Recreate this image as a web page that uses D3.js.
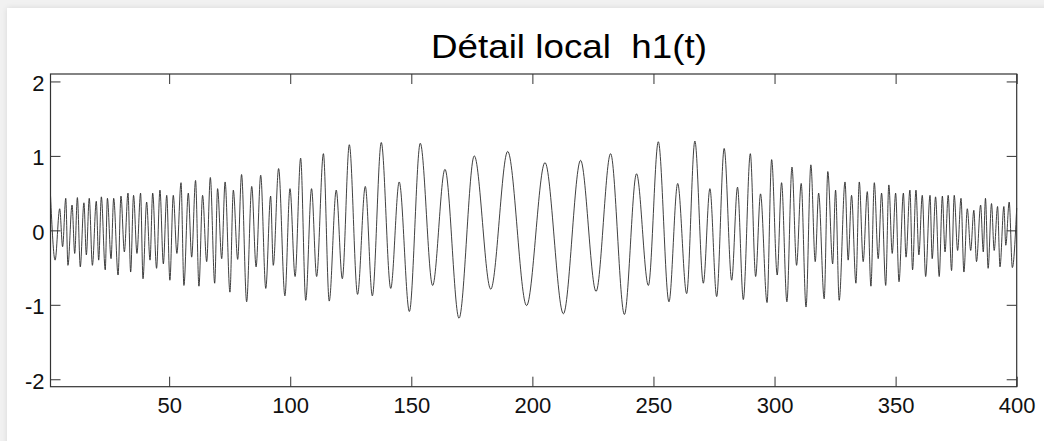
<!DOCTYPE html>
<html>
<head>
<meta charset="utf-8">
<script src="https://cdnjs.cloudflare.com/ajax/libs/d3/7.8.5/d3.min.js"></script>
<style>
  html, body { margin: 0; padding: 0; }
  body {
    width: 1044px; height: 441px; overflow: hidden; position: relative;
    background: #f1f1f1;
    font-family: Arial, "Liberation Sans", Helvetica, sans-serif;
  }
  #panel {
    position: absolute; left: 7px; top: 8px; width: 1100px; height: 500px;
    background: #fff; box-shadow: 0 0 6px rgba(0,0,0,0.10);
  }
  #chart { position: absolute; left: 0; top: 0; }
</style>
</head>
<body>
<div id="panel"></div>
<svg id="chart" width="1044" height="441"></svg>
<script>

// local extrema of h1(t) (t, value)
var t_vals = [
  1.0, 2.9, 4.8, 6.0, 7.3, 8.2, 9.9, 11.0, 12.1, 13.3, 14.8, 15.8, 17.0, 18.3, 19.9, 20.9,
  22.0, 23.6, 24.5, 26.0, 27.1, 28.9, 30.1, 31.5, 33.0, 34.1, 35.3, 36.7, 38.2, 39.2, 40.7, 42.1,
  43.2, 44.8, 46.2, 47.6, 49.0, 50.3, 51.7, 53.2, 54.9, 56.1, 57.9, 59.3, 60.9, 62.3, 63.8, 65.5,
  67.0, 68.8, 70.0, 71.7, 73.1, 75.1, 76.5, 78.3, 79.9,
  82.0, 84.1, 85.9, 87.8, 89.9, 91.9, 93.0, 95.2, 97.8, 99.9, 102.0, 104.3, 106.4, 108.8, 110.9,
  113.7, 116.1, 119.0, 121.5, 124.4, 127.8, 131.0, 133.9, 137.6, 141.5, 145.0, 149.2, 153.7, 158.8,
  163.9, 169.7, 176.0, 182.8, 189.8, 197.6, 205.2, 212.8, 219.9, 226.3, 232.3, 238.0, 243.0,
  247.9, 252.0, 256.4, 260.0, 263.7, 267.1, 270.6, 273.3, 276.1, 279.2, 282.3, 284.7, 287.1,
  290.0, 292.2, 294.2, 296.9, 298.8, 301.1, 302.9, 305.1, 307.2, 309.1, 311.0, 313.0, 315.0,
  316.8, 318.2, 320.5, 322.0, 324.0, 325.2, 326.7,
  329.1, 330.4, 331.8, 333.6, 335.0, 336.6, 338.3, 339.8, 341.2, 342.8, 344.2, 345.9, 347.2,
  348.6, 350.0, 351.4, 353.2, 354.3, 355.9, 357.0, 358.4, 359.6, 361.0, 362.4, 364.2, 365.1,
  366.5, 368.0, 369.3, 370.4, 371.7, 373.1, 374.2, 375.6, 377.0, 378.2, 379.6, 381.0, 382.3,
  383.4, 385.1, 386.2, 387.1, 388.2, 389.6, 390.7, 392.1, 393.1, 394.7, 395.5, 396.9, 398.2, 400.0
]
var h_vals = [
  0.47, -0.40, 0.29, -0.22, 0.43, -0.47, 0.34, -0.31, 0.44, -0.49, 0.37, -0.33, 0.43, -0.47, 0.39, -0.40,
  0.45, -0.53, 0.43, -0.38, 0.43, -0.60, 0.46, -0.29, 0.50, -0.56, 0.47, -0.31, 0.50, -0.65, 0.38, -0.40,
  0.50, -0.51, 0.54, -0.45, 0.47, -0.67, 0.47, -0.31, 0.64, -0.74, 0.50, -0.36, 0.67, -0.75, 0.47, -0.42,
  0.71, -0.71, 0.56, -0.38, 0.65, -0.83, 0.54, -0.39, 0.75,
  -0.96, 0.59, -0.49, 0.74, -0.78, 0.46, -0.47, 0.83, -0.88, 0.56, -0.62, 0.97, -0.94, 0.56, -0.62,
  1.03, -0.95, 0.54, -0.65, 1.15, -0.86, 0.59, -0.88, 1.18, -0.78, 0.65, -1.09, 1.17, -0.74,
  0.82, -1.18, 1.00, -0.79, 1.06, -1.01, 0.91, -1.12, 0.94, -0.82, 1.03, -1.13, 0.76,
  -0.74, 1.19, -0.96, 0.63, -0.85, 1.20, -0.71, 0.56, -0.89, 1.10, -0.67, 0.58, -0.93,
  1.03, -0.62, 0.49, -0.97, 0.95, -0.60, 0.64, -0.96, 0.85, -0.47, 0.63, -1.03, 0.88,
  -0.42, 0.50, -0.92, 0.79, -0.45, 0.54, -0.94,
  0.65, -0.40, 0.47, -0.71, 0.65, -0.42, 0.52, -0.75, 0.64, -0.38, 0.50, -0.74, 0.61,
  -0.31, 0.50, -0.69, 0.50, -0.36, 0.54, -0.53, 0.54, -0.33, 0.47, -0.62, 0.47, -0.38,
  0.45, -0.62, 0.46, -0.29, 0.47, -0.54, 0.47, -0.27, 0.43, -0.56, 0.29, -0.27, 0.27,
  -0.42, 0.34, -0.29, 0.43, -0.51, 0.36, -0.27, 0.32, -0.49, 0.32, -0.20, 0.38, -0.50, 0.30
]

var x_ticks = [50, 100, 150, 200, 250, 300, 350, 400]
var y_ticks = [-2, -1, 0, 1, 2]
var x_range = [1, 400]
var y_range = [-2.1, 2.1]
var title_text = "Détail local  h1(t)"

var data = t_vals.map(function(t, i){ return { t: t, h: h_vals[i] } })

const svg = d3.select('#chart')

const m_left = 50.5, m_right = 1016.7, m_top = 74, m_bottom = 386.7

const x = d3.scaleLinear().domain(x_range).range([m_left, m_right])
const y = d3.scaleLinear().domain(y_range).range([m_bottom, m_top])

// signal
const line = d3.line()
  .x(function(d){ return x(d.t) })
  .y(function(d){ return y(d.h) })
  .curve(d3.curveMonotoneX)

svg.append('path')
  .datum(data)
  .attr('d', line)
  .attr('fill', 'none')
  .attr('stroke', '#2a2a2a')
  .attr('stroke-width', 0.9)

// axes, ticks pointing inwards on all four sides
function styleAxis(g) {
  g.select('.domain').remove()
  g.selectAll('.tick line').attr('stroke', '#333').attr('stroke-width', 1)
  g.selectAll('.tick text')
    .attr('fill', '#111')
    .style('font-family', 'Arial, "Liberation Sans", Helvetica, sans-serif')
    .style('font-size', '22px')
}

// plain hyphen for negatives, as in the figure
var plain = function(d){ return String(d) }

svg.append('g')
  .attr('transform', 'translate(0,' + m_bottom + ')')
  .call(d3.axisBottom(x).tickValues(x_ticks).tickSizeInner(-10).tickSizeOuter(0).tickPadding(11)
    .tickFormat(plain))
  .call(styleAxis)

svg.append('g')
  .attr('transform', 'translate(0,' + m_top + ')')
  .call(d3.axisTop(x).tickValues(x_ticks).tickSizeInner(-10).tickSizeOuter(0).tickFormat(''))
  .call(styleAxis)

svg.append('g')
  .attr('transform', 'translate(' + m_left + ',0)')
  .call(d3.axisLeft(y).tickValues(y_ticks).tickSizeInner(-10).tickSizeOuter(0).tickPadding(6)
    .tickFormat(plain))
  .call(styleAxis)
  .selectAll('.tick text').attr('dy', '0.4em')

svg.append('g')
  .attr('transform', 'translate(' + m_right + ',0)')
  .call(d3.axisRight(y).tickValues(y_ticks).tickSizeInner(-10).tickSizeOuter(0).tickFormat(''))
  .call(styleAxis)

// box
svg.append('rect')
  .attr('x', m_left)
  .attr('y', m_top)
  .attr('width', m_right - m_left)
  .attr('height', m_bottom - m_top)
  .attr('fill', 'none')
  .attr('stroke', '#333')
  .attr('stroke-width', 1.2)

// title
svg.append('text')
  .attr('x', 431)
  .attr('y', 57.7)
  .attr('textLength', 276)
  .attr('lengthAdjust', 'spacingAndGlyphs')
  .style('white-space', 'pre')
  .style('font-family', 'Arial, "Liberation Sans", Helvetica, sans-serif')
  .style('font-size', '33px')
  .attr('fill', '#000')
  .text(title_text)

</script>
</body>
</html>
